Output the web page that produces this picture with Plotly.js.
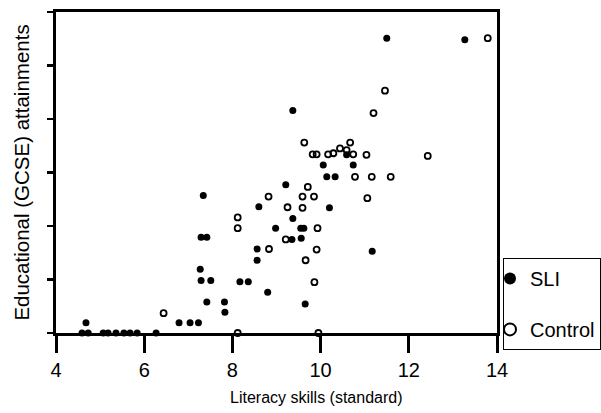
<!DOCTYPE html>
<html>
<head>
<meta charset="utf-8">
<script src="https://cdn.plot.ly/plotly-3.0.1.min.js"></script>
<style>
  html, body { margin: 0; padding: 0; background: #fff; }
  #chart { width: 601px; height: 413px; }
</style>
</head>
<body>
<div id="chart"></div>
<script>
// SLI group (filled circles)
const sliX = [4.59, 4.73, 5.07, 5.18, 5.36, 5.54, 5.68, 5.84, 6.27,
              4.68, 6.79, 7.04, 7.23, 7.42, 7.82, 7.83, 7.27, 7.29, 7.51,
              7.29, 7.42, 7.34, 8.17, 8.36, 8.56, 8.56, 8.60, 8.80, 8.98,
              9.21, 9.37, 9.35, 9.56, 9.55, 9.62, 9.37, 9.65, 10.06, 10.14,
              10.33, 10.20, 10.59, 10.74, 11.17, 11.50, 13.27];
const sliY = [0, 0, 0, 0, 0, 0, 0, 0, 0,
              0.19, 0.19, 0.19, 0.19, 0.58, 0.58, 0.39, 1.19, 0.98, 0.98,
              1.79, 1.79, 2.57, 0.96, 0.96, 1.57, 1.36, 2.36, 0.76, 1.96,
              2.77, 4.16, 1.75, 1.77, 1.96, 1.96, 2.14, 0.54, 3.14, 2.92,
              2.92, 2.34, 3.33, 3.14, 1.53, 5.51, 5.48];

// Control group (open circles)
const ctrlX = [6.44, 8.12, 9.95, 8.12, 8.12, 8.82, 8.83, 9.21, 9.25, 9.59,
               9.85, 9.59, 9.71, 9.93, 9.91, 9.66, 9.86, 9.63, 9.82, 9.91,
               10.17, 10.29, 10.44, 10.67, 10.59, 10.74, 11.04, 10.78, 11.16, 11.59,
               11.06, 11.20, 11.46, 13.79, 12.43];
const ctrlY = [0.37, 0, 0, 2.16, 1.96, 2.55, 1.57, 1.75, 2.35, 2.55,
               2.55, 2.34, 2.73, 1.96, 1.56, 1.36, 0.95, 3.56, 3.34, 3.34,
               3.34, 3.36, 3.45, 3.56, 3.42, 3.34, 3.33, 2.92, 2.92, 2.92,
               2.52, 4.11, 4.53, 5.51, 3.31];

const xTickVals = [4, 6, 8, 10, 12, 14];
const yTickVals = [0, 1, 2, 3, 4, 5, 6];
const xTitle = "Literacy skills (standard)";
const yTitle = "Educational (GCSE) attainments";

const font = "Liberation Sans, Arial, Helvetica, sans-serif";

const traces = [
  {
    x: sliX, y: sliY, name: "SLI", type: "scatter", mode: "markers",
    legendgroup: "a", cliponaxis: false,
    marker: { symbol: "circle", size: 7, color: "#000" }
  },
  {
    x: ctrlX, y: ctrlY, name: "Control", type: "scatter", mode: "markers",
    legendgroup: "b", cliponaxis: false,
    marker: { symbol: "circle-open", size: 6, color: "#000", line: { width: 1.8, color: "#000" } }
  }
];

const layout = {
  width: 601, height: 413,
  margin: { l: 56, r: 104, t: 12, b: 80, autoexpand: false },
  paper_bgcolor: "#fff", plot_bgcolor: "#fff",
  font: { family: font, color: "#000", size: 20 },
  showlegend: true,
  legend: {
    x: 1.0136, xanchor: "left", y: 0.234, yanchor: "top",
    bordercolor: "#000", borderwidth: 1, bgcolor: "#fff",
    font: { family: font, size: 20, color: "#000" },
    itemsizing: "constant", traceorder: "grouped", tracegroupgap: 22,
    indentation: -14
  },
  xaxis: {
    range: [4, 14], tickvals: xTickVals, ticktext: xTickVals.map(String),
    ticks: "outside", ticklen: 17, tickwidth: 3, tickcolor: "#000",
    showline: true, linewidth: 3, linecolor: "#000", mirror: true,
    showgrid: false, zeroline: false,
    tickfont: { family: font, size: 20, color: "#000" }
  },
  yaxis: {
    range: [0, 6], tickvals: yTickVals, showticklabels: false,
    ticks: "outside", ticklen: 6, tickwidth: 2.5, tickcolor: "#000",
    showline: true, linewidth: 3, linecolor: "#000", mirror: true,
    showgrid: false, zeroline: false,
    title: { text: yTitle, font: { family: font, size: 20.5, color: "#000" }, standoff: 12 }
  },
  annotations: [
    {
      text: xTitle, xref: "paper", yref: "paper", x: 0.59, y: -0.2,
      xanchor: "center", yanchor: "middle", showarrow: false,
      font: { family: font, size: 16, color: "#000" }
    }
  ]
};

Plotly.newPlot("chart", traces, layout, { displayModeBar: false, staticPlot: true });
</script>
</body>
</html>
